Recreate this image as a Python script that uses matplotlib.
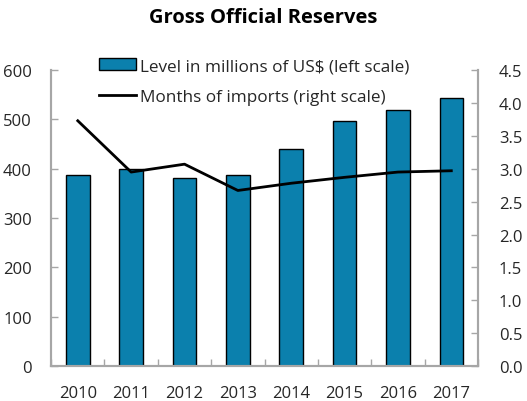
import numpy as np
import matplotlib.pyplot as plt

plt.rcParams['font.family'] = ['Open Sans', 'DejaVu Sans']

years = ['2010', '2011', '2012', '2013', '2014', '2015', '2016', '2017']
reserves = [387, 400, 382, 387, 441, 496, 520, 543]
months_imports = [3.73, 2.95, 3.07, 2.67, 2.78, 2.87, 2.95, 2.97]

grey = '#a6a6a6'
txt = '#262626'

fig = plt.figure(figsize=(5.27, 4.02), dpi=100)
ax = fig.add_axes([0.097, 0.087, 0.81, 0.736])
ax2 = ax.twinx()

x = np.arange(len(years))
bars = ax.bar(x, reserves, width=0.44, color='#0b80ad', edgecolor='black',
              linewidth=1.0, label='Level in millions of US$ (left scale)', zorder=2)
line, = ax2.plot(x, months_imports, color='black', linewidth=2.0,
                 label='Months of imports (right scale)')

ax.set_xlim(-0.5, len(years) - 0.5)
ax.set_ylim(0, 600)
ax.set_yticks(np.arange(0, 601, 100))
ax2.set_ylim(0, 4.5)
ax2.set_yticks(np.arange(0, 4.51, 0.5))
ax2.set_yticklabels([f'{v:.1f}' for v in np.arange(0, 4.51, 0.5)])

ax.set_xticks(x)
ax.set_xticklabels(years)
ax.set_xticks(np.arange(-0.5, len(years), 1.0), minor=True)
ax.tick_params(axis='x', which='major', length=0, pad=14, labelsize=12, labelcolor=txt)
ax.tick_params(axis='x', which='minor', direction='in', length=5, color=grey, width=1)
ax.tick_params(axis='y', direction='in', length=5, color=grey, width=1,
               pad=14, labelsize=12, labelcolor=txt)
ax2.tick_params(axis='y', direction='in', length=5, color=grey, width=1,
                pad=15, labelsize=12, labelcolor=txt)

for a in (ax, ax2):
    a.spines['top'].set_visible(False)
    for s in ('left', 'right', 'bottom'):
        a.spines[s].set_color(grey)
        a.spines[s].set_linewidth(1.5)

fig.suptitle('Gross Official Reserves', x=0.5, y=0.98, fontsize=14.5,
             fontweight='bold', color='black')

fig.legend([bars, line], [bars.get_label(), line.get_label()],
           loc='upper left', bbox_to_anchor=(0.174, 0.87), frameon=False,
           fontsize=12.3, handlelength=2.2, handletextpad=0.25,
           labelspacing=0.85, labelcolor=txt, borderaxespad=0)

fig.savefig('out.png', dpi=100)
